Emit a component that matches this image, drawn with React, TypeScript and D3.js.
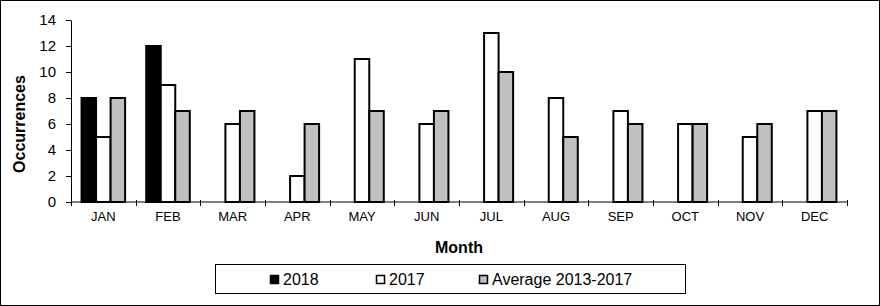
import { useEffect, useRef } from "react";
import * as d3 from "d3";

const months = ["JAN", "FEB", "MAR", "APR", "MAY", "JUN", "JUL", "AUG", "SEP", "OCT", "NOV", "DEC"];
const series2018: (number | null)[] = [8, 12, null, null, null, null, null, null, null, null, null, null];
const series2017 = [5, 9, 6, 2, 11, 6, 13, 8, 7, 6, 5, 7];
const seriesAvg = [8, 7, 7, 6, 7, 7, 10, 5, 6, 6, 6, 7];
const seriesNames = ["2018", "2017", "Average 2013-2017"];
const seriesColors = ["#000000", "#ffffff", "#c0c0c0"];
const yTicks = [0, 2, 4, 6, 8, 10, 12, 14];

const width = 880;
const height = 306;
const margin = { left: 71, top: 20, right: 33, bottom: 104 };

const App = () => {
    const svgRef = useRef<SVGSVGElement>(null);

    useEffect(() => {
        const svg = d3.select(svgRef.current);
        svg.selectAll("*").remove();
        const font = "Liberation Sans, Arial, sans-serif";

        // outer frame
        svg.append("rect")
            .attr("x", 0.5).attr("y", 0.5)
            .attr("width", width - 1).attr("height", height - 1)
            .attr("fill", "white").attr("stroke", "black");

        const x0 = d3.scaleBand().domain(months).range([margin.left, width - margin.right]).padding(0);
        const x1 = d3.scaleBand().domain(seriesNames).range([0, x0.bandwidth()]).paddingInner(0).paddingOuter(0.727);
        const y = d3.scaleLinear().domain([0, 14]).range([height - margin.bottom, margin.top]);

        const allSeries = [series2018, series2017, seriesAvg];
        const bars = months.flatMap((m, i) =>
            allSeries.map((s, j) => ({ month: m, name: seriesNames[j], color: seriesColors[j], value: s[i] }))
        ).filter(d => d.value != null);

        svg.append("g").selectAll("rect")
            .data(bars)
            .join("rect")
            .attr("x", d => (x0(d.month) ?? 0) + (x1(d.name) ?? 0))
            .attr("y", d => y(d.value as number))
            .attr("width", x1.bandwidth())
            .attr("height", d => y(0) - y(d.value as number))
            .attr("fill", d => d.color)
            .attr("stroke", "black")
            .attr("stroke-width", 2);

        // y axis
        const yAxis = svg.append("g")
            .attr("transform", `translate(${margin.left},0)`)
            .call(d3.axisLeft(y).tickValues(yTicks).tickSize(5).tickSizeOuter(0).tickPadding(10));
        yAxis.selectAll("text").attr("font-family", font).attr("font-size", 15).attr("fill", "black");
        yAxis.selectAll("line, path").attr("stroke", "black");

        // x axis: line with crossing tick marks at category boundaries
        const xg = svg.append("g");
        xg.append("line")
            .attr("x1", margin.left).attr("x2", width - margin.right)
            .attr("y1", y(0)).attr("y2", y(0))
            .attr("stroke", "black");
        const bounds = months.map(m => x0(m) as number).concat([width - margin.right]);
        xg.selectAll("line.tick")
            .data(bounds)
            .join("line")
            .attr("class", "tick")
            .attr("x1", d => Math.round(d) + 0.5).attr("x2", d => Math.round(d) + 0.5)
            .attr("y1", y(0) - 2).attr("y2", y(0) + 4)
            .attr("stroke", "black");
        xg.selectAll("text")
            .data(months)
            .join("text")
            .attr("x", d => (x0(d) as number) + x0.bandwidth() / 2)
            .attr("y", y(0) + 19)
            .attr("text-anchor", "middle")
            .attr("font-family", font)
            .attr("font-size", 13)
            .text(d => d);

        // axis titles
        svg.append("text")
            .attr("x", (margin.left + width - margin.right) / 2)
            .attr("y", 253)
            .attr("text-anchor", "middle")
            .attr("font-family", font).attr("font-weight", "bold").attr("font-size", 16)
            .text("Month");
        svg.append("text")
            .attr("transform", `translate(25,124) rotate(-90)`)
            .attr("text-anchor", "middle")
            .attr("font-family", font).attr("font-weight", "bold").attr("font-size", 16)
            .text("Occurrences");

        // legend
        const lg = svg.append("g");
        lg.append("rect")
            .attr("x", 215.5).attr("y", 264.5).attr("width", 470).attr("height", 29)
            .attr("fill", "white").attr("stroke", "black");
        const legendX = [270, 376, 479];
        const items = lg.selectAll("g.item")
            .data(seriesNames)
            .join("g")
            .attr("class", "item")
            .attr("transform", (d, i) => `translate(${legendX[i]},275)`);
        items.append("rect")
            .attr("x", 0.5).attr("y", 0.5).attr("width", 8).attr("height", 8)
            .attr("fill", (d, i) => seriesColors[i])
            .attr("stroke", "black").attr("stroke-width", 1.5);
        items.append("text")
            .attr("x", 13).attr("y", 10)
            .attr("font-family", font).attr("font-size", 16)
            .text(d => d);
    }, []);

    return (
        <>
            <style>{`body{margin:0}`}</style>
            <svg ref={svgRef} width={width} height={height} style={{ display: "block" }}></svg>
        </>
    );
};

export default App;
